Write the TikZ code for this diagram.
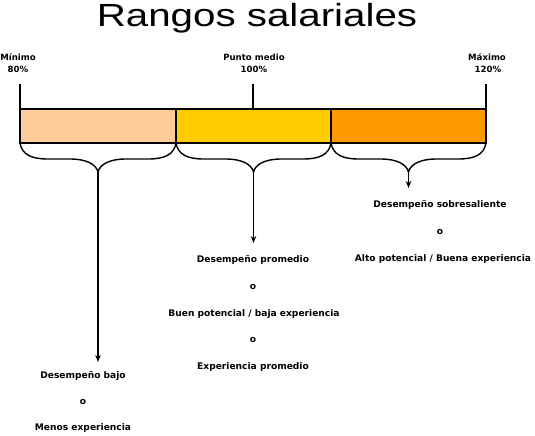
\documentclass[tikz,border=0pt]{standalone}
\usepackage{fontspec}
\setmainfont{Liberation Sans}
\newfontfamily\lblfont{DejaVu Sans}
\usetikzlibrary{arrows.meta}
\definecolor{peach}{HTML}{FFCC99}
\definecolor{gold}{HTML}{FFCC00}
\definecolor{amber}{HTML}{FF9900}
\begin{document}
\begin{tikzpicture}[x=1pt,y=-1pt,
  ln/.style={line width=1.4pt,black},
  seg/.style={draw,line width=1.4pt,minimum height=34pt,anchor=north west,inner sep=0pt,outer sep=0pt},
  lbl/.style={font=\lblfont\bfseries\fontsize{8.6}{10}\selectfont,inner sep=1pt},
  txt/.style={font=\lblfont\bfseries\fontsize{9.1}{11}\selectfont,inner sep=1pt},
  arr/.style={line width=1.2pt,-{Stealth[length=7pt,width=5.5pt]}},
  titlestyle/.style={font=\fontsize{32}{36}\selectfont,inner sep=0pt}]
\useasboundingbox (0,0) rectangle (535,436);
% title
\node[titlestyle,anchor=base] (title) at (257,27) {\scalebox{1.26}[1]{Rangos salariales}};
% top labels
\node[lbl] (min1) at (18,57) {Mínimo};
\node[lbl] (min2) at (18,69) {80\%};
\node[lbl] (mid1) at (254,57) {Punto medio};
\node[lbl] (mid2) at (254,69) {100\%};
\node[lbl] (max1) at (487,57) {Máximo};
\node[lbl] (max2) at (488,69) {120\%};
% bar
\node[seg,fill=peach,minimum width=156pt] (s1) at (20,109) {};
\node[seg,fill=gold,minimum width=155pt] (s2) at (176,109) {};
\node[seg,fill=amber,minimum width=155pt] (s3) at (331,109) {};
% ticks
\coordinate (k1) at (20,84);
\coordinate (k2) at (253,84);
\coordinate (k3) at (486,84);
\draw[ln] (k1) -- (s1.north west);
\draw[ln] (k2) -- (s2.north west -| k2);
\draw[ln] (k3) -- (s3.north east);
% braces
\draw[ln] (s1.south west) .. controls +(2,12) and +(-16,0) .. ++(28,16) -- ++(22,0)
  .. controls +(16,0) and +(-2,-8) .. ++(28,13) coordinate (t1)
  .. controls +(2,-8) and +(-16,0) .. ++(28,-13) -- ++(22,0)
  .. controls +(16,0) and +(-2,12) .. ++(28,-16);
\draw[ln] (s2.south west) .. controls +(2,12) and +(-16,0) .. ++(28,16) -- ++(21.5,0)
  .. controls +(16,0) and +(-2,-8) .. ++(28,13) coordinate (t2)
  .. controls +(2,-8) and +(-16,0) .. ++(28,-13) -- ++(21.5,0)
  .. controls +(16,0) and +(-2,12) .. ++(28,-16);
\draw[ln] (s3.south west) .. controls +(2,12) and +(-16,0) .. ++(28,16) -- ++(21.5,0)
  .. controls +(16,0) and +(-2,-8) .. ++(28,13) coordinate (t3)
  .. controls +(2,-8) and +(-16,0) .. ++(28,-13) -- ++(21.5,0)
  .. controls +(16,0) and +(-2,12) .. ++(28,-16);
% arrow ends
\coordinate (e1) at (t1 |- 0,362);
\coordinate (e2) at (t2 |- 0,243);
\coordinate (e3) at (t3 |- 0,188);
% right texts
\node[txt] (r1) at (440,205) {Desempeño sobresaliente};
\node[txt] (r2) at (440,232) {o};
\node[txt] (r3) at (443,259) {Alto potencial / Buena experiencia};
% middle texts
\node[txt] (m1) at (253,260) {Desempeño promedio};
\node[txt] (m2) at (253,287) {o};
\node[txt] (m3) at (254,314) {Buen potencial / baja experiencia};
\node[txt] (m4) at (253,340) {o};
\node[txt] (m5) at (253,367) {Experiencia promedio};
% left texts
\node[txt] (l1) at (83,376) {Desempeño bajo};
\node[txt] (l2) at (83,402) {o};
\node[txt] (l3) at (83,428) {Menos experiencia};
% arrows
\draw[arr] (t1) -- (e1);
\draw[arr] (t2) -- (e2);
\draw[arr] (t3) -- (e3);
\end{tikzpicture}
\end{document}
